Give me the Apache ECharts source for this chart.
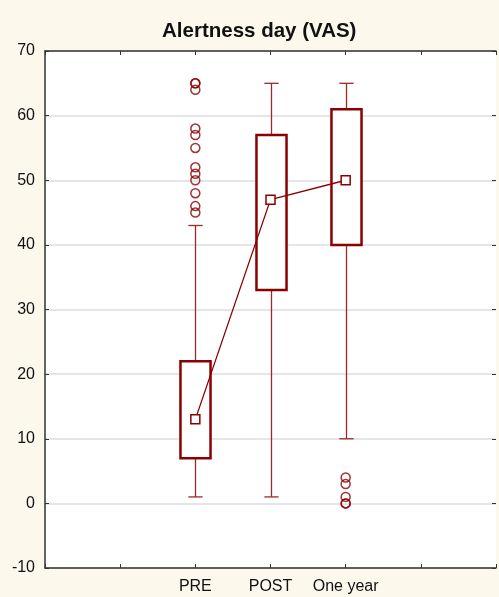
<!DOCTYPE html>
<html>
<head>
<meta charset="utf-8">
<script src="https://cdn.jsdelivr.net/npm/echarts@6/dist/echarts.min.js"></script>
<style>
  html, body { margin: 0; padding: 0; background: #fdf8ec; }
  #main { width: 499px; height: 597px; }
</style>
</head>
<body>
<div id="main"></div>
<script>
// groups and where they sit on the x scale (0..6)
const categories = ['PRE', 'POST', 'One year'];
const catPos = [2, 3, 4];

// box statistics
const whiskerLow = [1, 1, 10];
const q1 = [7, 33, 40];
const median = [13, 47, 50];
const q3 = [22, 57, 61];
const whiskerHigh = [43, 65, 65];

// outliers
const outliersPre = [45, 46, 48, 50, 51, 52, 55, 57, 58, 64, 65, 65];
const outliersPost = [];
const outliersYear = [4, 3, 1, 0, 0];

const yTicks = [-10, 0, 10, 20, 30, 40, 50, 60, 70];

const RED = '#8b0000';

const chart = echarts.init(document.getElementById('main'), null, { renderer: 'canvas' });

const boxData = catPos.map((x, i) => [x, whiskerLow[i], q1[i], q3[i], whiskerHigh[i]]);
const medianData = catPos.map((x, i) => [x, median[i]]);
const outlierData = []
  .concat(outliersPre.map(v => [catPos[0], v]))
  .concat(outliersPost.map(v => [catPos[1], v]))
  .concat(outliersYear.map(v => [catPos[2], v]));

function renderBox(params, api) {
  const x = api.value(0);
  const pLow = api.coord([x, api.value(1)]);
  const pQ1 = api.coord([x, api.value(2)]);
  const pQ3 = api.coord([x, api.value(3)]);
  const pHigh = api.coord([x, api.value(4)]);
  const boxW = api.size([0.4, 0])[0];
  const capW = api.size([0.19, 0])[0];
  const cx = Math.round(pQ1[0]) + 0.5;
  const wStyle = { stroke: '#9a2a2a', lineWidth: 1.3 };
  return {
    type: 'group',
    children: [
      { type: 'line', shape: { x1: cx, y1: pLow[1], x2: cx, y2: pQ1[1] }, style: wStyle },
      { type: 'line', shape: { x1: cx, y1: pQ3[1], x2: cx, y2: pHigh[1] }, style: wStyle },
      { type: 'line', shape: { x1: cx - capW / 2, y1: pLow[1], x2: cx + capW / 2, y2: pLow[1] }, style: wStyle },
      { type: 'line', shape: { x1: cx - capW / 2, y1: pHigh[1], x2: cx + capW / 2, y2: pHigh[1] }, style: wStyle },
      {
        type: 'rect',
        shape: { x: cx - boxW / 2, y: pQ3[1], width: boxW, height: pQ1[1] - pQ3[1] },
        style: { fill: '#fff', stroke: RED, lineWidth: 2.5 }
      }
    ]
  };
}

const axisFont = { fontFamily: 'Arial, "Liberation Sans", sans-serif', fontSize: 16, color: '#111' };
const frameLine = { onZero: false, lineStyle: { color: '#333', width: 1.5 } };
const tickIn = { show: true, inside: true, length: 4, lineStyle: { color: '#333' } };

const option = {
  backgroundColor: '#fdf8ec',
  animation: false,
  title: {
    text: 'Alertness day (VAS)',
    left: 157,
    top: 16,
    textStyle: { fontFamily: 'Arial, "Liberation Sans", sans-serif', fontSize: 20.5, fontWeight: 'bold', color: '#111' }
  },
  grid: { left: 45, right: 0, top: 51, bottom: 29, show: true, backgroundColor: '#fff', borderWidth: 0 },
  xAxis: [{
    type: 'value',
    min: 0, max: 6, interval: 1,
    position: 'bottom',
    axisLine: frameLine,
    axisTick: tickIn,
    splitLine: { show: false },
    axisLabel: Object.assign({
      margin: 11,
      formatter: v => {
        const k = catPos.indexOf(v);
        return k >= 0 ? categories[k] : '';
      }
    }, axisFont)
  }, {
    type: 'value',
    min: 0, max: 6, interval: 1,
    position: 'top',
    axisLine: frameLine,
    axisTick: tickIn,
    splitLine: { show: false },
    axisLabel: { show: false }
  }],
  yAxis: [{
    type: 'value',
    position: 'left',
    min: yTicks[0], max: yTicks[yTicks.length - 1], interval: 10,
    axisLine: Object.assign({ show: true }, frameLine),
    axisTick: tickIn,
    splitLine: { show: true, lineStyle: { color: '#dcdcdc', width: 1.5 } },
    axisLabel: Object.assign({ margin: 10 }, axisFont)
  }, {
    type: 'value',
    position: 'right',
    min: yTicks[0], max: yTicks[yTicks.length - 1], interval: 10,
    axisLine: { show: false, onZero: false },
    axisTick: tickIn,
    splitLine: { show: false },
    axisLabel: { show: false }
  }],
  series: [{
    type: 'custom',
    renderItem: renderBox,
    data: boxData,
    encode: { x: 0, y: [1, 2, 3, 4] },
    z: 2
  }, {
    type: 'line',
    data: medianData,
    symbol: 'rect',
    symbolSize: 9,
    itemStyle: { color: '#fff', borderColor: RED, borderWidth: 1.5 },
    lineStyle: { color: RED, width: 1.3 },
    z: 3
  }, {
    type: 'scatter',
    data: outlierData,
    symbol: 'circle',
    symbolSize: 9,
    itemStyle: { color: 'rgba(0,0,0,0)', borderColor: RED, borderWidth: 1.5 },
    z: 3
  }]
};

chart.setOption(option);
</script>
</body>
</html>
